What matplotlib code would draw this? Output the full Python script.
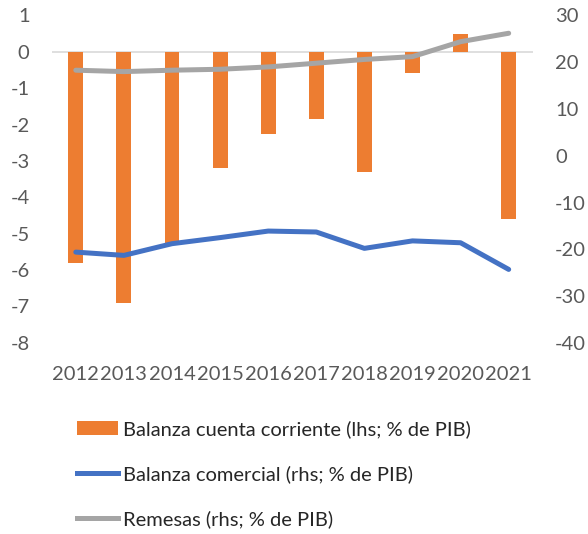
import matplotlib
matplotlib.use("Agg")
import matplotlib.pyplot as plt
from matplotlib.patches import Patch
from matplotlib.lines import Line2D

plt.rcParams['font.family'] = ['Lato', 'DejaVu Sans']
plt.rcParams['axes.unicode_minus'] = False

years = ['2012', '2013', '2014', '2015', '2016', '2017', '2018', '2019', '2020', '2021']
cuenta_corriente = [-5.8, -6.9, -5.3, -3.2, -2.25, -1.85, -3.3, -0.58, 0.5, -4.6]
balanza_comercial = [-20.6, -21.3, -18.8, -17.5, -16.1, -16.3, -19.8, -18.2, -18.6, -24.3]
remesas = [18.3, 18.0, 18.3, 18.5, 19.0, 19.8, 20.6, 21.2, 24.4, 26.2]

label_bar = 'Balanza cuenta corriente (lhs; % de PIB)'
label_blue = 'Balanza comercial (rhs; % de PIB)'
label_gray = 'Remesas (rhs; % de PIB)'

ORANGE = '#ED7D31'
BLUE = '#4472C4'
GRAY = '#A5A5A5'
TXT = '#595959'
FS = 14.5

fig = plt.figure(figsize=(5.88, 5.34), dpi=100)
ax = fig.add_axes([0.088, 0.358, 0.818, 0.613])
x = list(range(len(years)))
ax.bar(x, cuenta_corriente, width=0.31, color=ORANGE, zorder=2)
ax.axhline(0, color='#D9D9D9', lw=1.2, zorder=1)
ax.set_xlim(-0.5, len(years) - 0.5)
ax.set_ylim(-8, 1)
ax.set_yticks(range(-8, 2))
ax.set_xticks(x)
ax.set_xticklabels(years)
for s in ax.spines.values():
    s.set_visible(False)
ax.tick_params(axis='y', length=0, pad=16, labelsize=FS, labelcolor=TXT)
ax.tick_params(axis='x', length=0, pad=17, labelsize=FS, labelcolor=TXT)

ax2 = ax.twinx()
ax2.plot(x, balanza_comercial, color=BLUE, lw=3.6, solid_capstyle='round', zorder=3)
ax2.plot(x, remesas, color=GRAY, lw=3.6, solid_capstyle='round', zorder=3)
ax2.set_ylim(-40, 30)
ax2.set_yticks(range(-40, 31, 10))
for s in ax2.spines.values():
    s.set_visible(False)
ax2.tick_params(axis='y', length=0, pad=16, labelsize=FS, labelcolor=TXT)

handles = [Patch(facecolor=ORANGE, edgecolor='none'),
           Line2D([], [], color=BLUE, lw=3.6),
           Line2D([], [], color=GRAY, lw=3.6)]
leg = fig.legend(handles, [label_bar, label_blue, label_gray],
                 loc='upper left', bbox_to_anchor=(0.117, 0.228), frameon=False,
                 fontsize=FS, handlelength=2.05, handletextpad=0.25,
                 labelspacing=1.34, borderaxespad=0)
for t in leg.get_texts():
    t.set_color('#262626')

fig.savefig('out.png', dpi=100)
